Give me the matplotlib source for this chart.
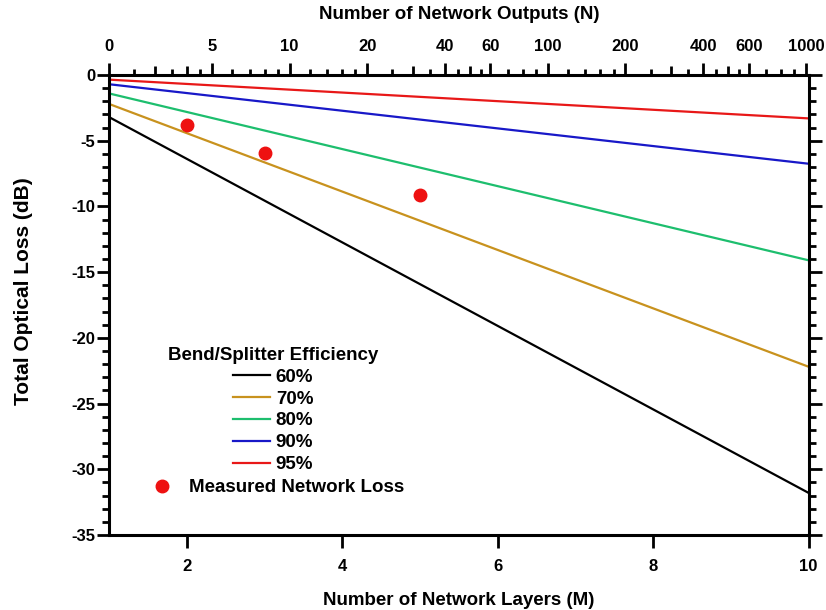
import matplotlib
matplotlib.use('Agg')
import matplotlib.pyplot as plt
import numpy as np
from matplotlib.ticker import MultipleLocator, FixedLocator
from matplotlib.lines import Line2D

plt.rcParams['font.family'] = ['Liberation Sans', 'DejaVu Sans']
plt.rcParams['font.weight'] = 'bold'
plt.rcParams['axes.unicode_minus'] = False

# ---- data ----
layers = [1, 10]
eff_labels = ['60%', '70%', '80%', '90%', '95%']
loss_60 = [-3.2, -31.8]
loss_70 = [-2.2, -22.2]
loss_80 = [-1.4, -14.1]
loss_90 = [-0.7, -6.75]
loss_95 = [-0.35, -3.3]
meas_layers = [2, 3, 5]
meas_loss = [-3.8, -5.9, -9.1]
top_N = [2, 5, 10, 20, 40, 60, 100, 200, 400, 600, 1000]
top_labels = ['0', '5', '10', '20', '40', '60', '100', '200', '400', '600', '1000']
top_minor_N = [2.5, 3.5, 4.5, 6, 7, 8, 9, 12, 14, 16, 18, 25, 35, 45, 55, 70, 80, 90,
               120, 140, 160, 180, 250, 350, 450, 550, 700, 800, 900]
top_mid_N = [3, 4, 30, 50, 300, 500]

colors = ['#000000', '#C8921E', '#1DBE6E', '#1818C8', '#E81818']
series = [loss_60, loss_70, loss_80, loss_90, loss_95]

TICK_FS = 12
LAB_FS = 13.5

fig = plt.figure(figsize=(8.26, 6.10), dpi=100)
ax = fig.add_axes([0.132, 0.123, 0.847, 0.754])

handles = []
for s, c, lab in zip(series, colors, eff_labels):
    h, = ax.plot(layers, s, color=c, lw=1.6, label=lab, zorder=2)
    handles.append(h)
ax.plot(meas_layers, meas_loss, 'o', color='#EE1111', ms=9, zorder=3, clip_on=False)

ax.set_xlim(1, 10)
ax.set_ylim(-35, 0)
ax.xaxis.set_major_locator(FixedLocator([2, 4, 6, 8, 10]))
ax.yaxis.set_major_locator(MultipleLocator(5))
ax.yaxis.set_minor_locator(MultipleLocator(1))
ax.tick_params(axis='both', which='major', direction='out', length=9, width=2, labelsize=TICK_FS, pad=8)
ax.tick_params(axis='y', which='major', pad=1)
ax.tick_params(axis='y', which='minor', direction='out', length=5, width=2, left=True, right=True)
ax.tick_params(axis='y', which='both', left=True, right=True)
ax.tick_params(axis='x', which='both', top=False, bottom=True)
for sp in ax.spines.values():
    sp.set_linewidth(2.2)

ax.set_xlabel('Number of Network Layers (M)', fontsize=LAB_FS, fontweight='bold')
ax.set_ylabel('Total Optical Loss (dB)', fontsize=15, fontweight='bold')
ax.xaxis.set_label_coords(0.5, -0.125)
ax.yaxis.set_label_coords(-0.109, 0.53)

# top axis: number of outputs
ax2 = ax.twiny()
ax2.set_xlim(1, 10)
ax2.xaxis.set_major_locator(FixedLocator(np.log2(top_N)))
ax2.set_xticklabels(top_labels)
ax2.xaxis.set_minor_locator(FixedLocator(np.log2(top_minor_N)))
ax2.tick_params(axis='x', which='major', direction='out', length=9, width=2, labelsize=TICK_FS, pad=6)
ax2.tick_params(axis='x', which='minor', direction='out', length=4, width=2)
ax2.set_xlabel('Number of Network Outputs (N)', fontsize=LAB_FS, fontweight='bold')
ax2.xaxis.set_label_coords(0.5, 1.121)
for sp in ax2.spines.values():
    sp.set_visible(False)

ax3 = ax.twiny()
ax3.set_xlim(1, 10)
ax3.xaxis.set_major_locator(FixedLocator(np.log2(top_mid_N)))
ax3.tick_params(axis='x', which='major', direction='out', length=6.5, width=2, labeltop=False, labelbottom=False)
for sp in ax3.spines.values():
    sp.set_visible(False)

leg1 = ax.legend(handles=handles, loc='upper left', bbox_to_anchor=(168 / 826, 1 - 347 / 610),
                 bbox_transform=fig.transFigure, frameon=False, borderpad=0, borderaxespad=0,
                 title='Bend/Splitter Efficiency', fontsize=LAB_FS, handlelength=2.0,
                 handletextpad=0.3, labelspacing=0.25,
                 title_fontproperties={'weight': 'bold', 'size': LAB_FS})
ax.add_artist(leg1)
mh = Line2D([], [], marker='o', ls='none', color='#EE1111', ms=9)
leg2 = ax.legend(handles=[mh], labels=['Measured Network Loss'], loc='upper left',
                 bbox_to_anchor=(152.6 / 826, 1 - 479 / 610), bbox_transform=fig.transFigure,
                 frameon=False, borderpad=0, borderaxespad=0, fontsize=LAB_FS,
                 handlelength=1.0, handletextpad=0.94)

fig.savefig('out.png', dpi=100)
